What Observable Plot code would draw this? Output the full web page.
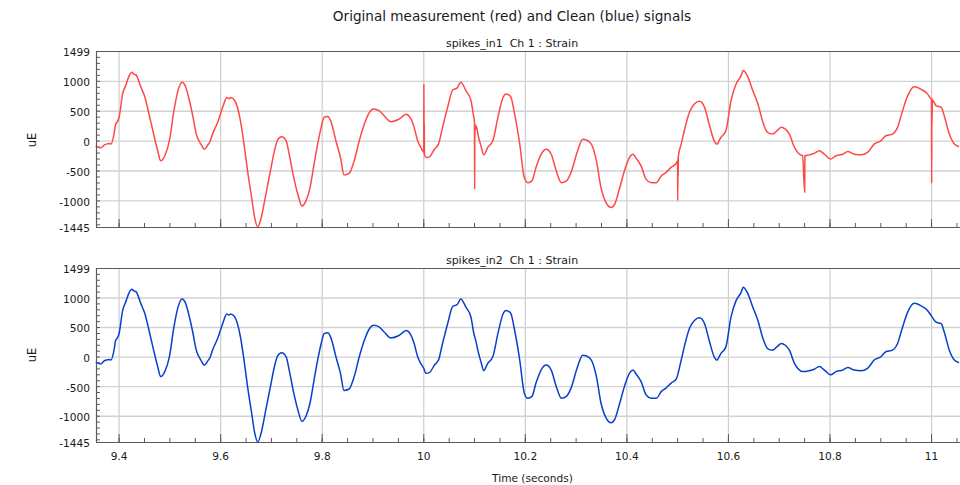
<!DOCTYPE html>
<html><head><meta charset="utf-8">
<script src="https://cdn.jsdelivr.net/npm/d3@7"></script>
<script src="https://cdn.jsdelivr.net/npm/@observablehq/plot@0.6"></script>
<style>
body{margin:0;background:#fff;font-family:"DejaVu Sans",sans-serif;}
#wrap{position:relative;width:960px;height:485px;overflow:hidden;background:#fff;}
.lbl{position:absolute;white-space:pre;color:#1a1a1a;transform:translate(-50%,-50%);line-height:1;}
.rot{transform:translate(-50%,-50%) rotate(-90deg);}
.panel{position:absolute;left:0;}
</style></head><body>
<div id="wrap">
  <div class="lbl" style="left:512px;top:17px;font-size:13.6px">Original measurement (red) and Clean (blue) signals</div>
  <div class="lbl" style="left:512px;top:43px;font-size:11px">spikes_in1  Ch 1 : Strain</div>
  <div class="lbl" style="left:512px;top:259.5px;font-size:11px">spikes_in2  Ch 1 : Strain</div>
  <div class="lbl rot" style="left:33px;top:140px;font-size:11.5px">uE</div>
  <div class="lbl rot" style="left:33px;top:355px;font-size:11.5px">uE</div>
  <div class="lbl" style="left:532.5px;top:478px;font-size:10.6px">Time (seconds)</div>
  <div class="panel" id="p1" style="top:0px"></div>
  <div class="panel" id="p2" style="top:240px"></div>
</div>
<script>
// ---- data ----
const time = [9.355,9.360,9.364,9.370,9.375,9.380,9.384,9.390,9.393,9.397,9.400,9.407,9.413,9.420,9.425,9.429,9.433,9.443,9.451,9.459,9.468,9.476,9.482,9.490,9.499,9.508,9.516,9.524,9.530,9.537,9.545,9.552,9.561,9.568,9.575,9.579,9.584,9.594,9.604,9.612,9.616,9.620,9.628,9.639,9.646,9.653,9.661,9.667,9.673,9.679,9.689,9.698,9.706,9.712,9.720,9.729,9.735,9.744,9.752,9.760,9.768,9.776,9.784,9.791,9.798,9.804,9.811,9.817,9.827,9.836,9.843,9.853,9.863,9.873,9.883,9.893,9.901,9.912,9.922,9.935,9.949,9.958,9.965,9.974,9.981,9.988,9.996,10.000,10.004,10.011,10.021,10.029,10.037,10.047,10.057,10.066,10.073,10.083,10.093,10.098,10.103,10.108,10.113,10.118,10.126,10.136,10.146,10.156,10.162,10.171,10.179,10.189,10.198,10.205,10.213,10.221,10.231,10.241,10.251,10.261,10.271,10.281,10.290,10.303,10.313,10.320,10.330,10.340,10.349,10.359,10.369,10.376,10.386,10.395,10.405,10.412,10.418,10.428,10.438,10.448,10.458,10.468,10.477,10.487,10.497,10.507,10.513,10.523,10.533,10.543,10.553,10.562,10.572,10.577,10.585,10.595,10.605,10.615,10.625,10.629,10.637,10.648,10.658,10.668,10.677,10.687,10.697,10.704,10.712,10.720,10.730,10.740,10.746,10.759,10.769,10.779,10.789,10.801,10.812,10.825,10.835,10.848,10.861,10.874,10.887,10.900,10.910,10.923,10.933,10.943,10.953,10.966,10.979,10.992,10.999,11.009,11.019,11.025,11.035,11.045,11.053];
const clean = [-90,-105,-117,-70,-50,-40,-50,117,275,330,400,790,930,1095,1150,1120,1110,900,730,450,117,-160,-330,-245,5,510,845,985,930,730,425,117,-50,-135,-60,-10,117,313,565,730,710,730,675,340,-50,-500,-945,-1280,-1435,-1310,-890,-500,-160,17,73,5,-220,-610,-890,-1085,-1000,-777,-385,-50,230,400,410,330,5,-275,-565,-540,-330,5,285,480,537,510,425,325,357,410,450,385,230,5,-135,-190,-275,-263,-135,-50,230,565,855,890,985,845,675,425,257,60,-90,-230,-105,5,397,730,790,745,450,-50,-610,-695,-665,-440,-220,-135,-220,-500,-695,-665,-525,-160,33,20,-50,-330,-777,-1030,-1112,-1055,-777,-500,-275,-220,-285,-415,-640,-695,-695,-580,-525,-440,-375,-50,173,480,620,665,565,285,5,-50,60,173,675,955,1095,1180,1095,845,620,313,145,117,185,230,200,117,-105,-220,-245,-230,-205,-160,-220,-300,-245,-220,-175,-220,-230,-190,-50,5,90,117,230,510,760,910,870,790,705,590,565,425,117,-50,-90];
// spikes present only in the original measurement
const spikeTime  = [10.0002,10.0006,10.0010,10.0014, 10.0998,10.1002,10.1006,10.1010, 10.4998,10.5002,10.5006,10.5010,10.5014, 10.7502,10.7506, 10.9998,11.0002,11.0006,11.0010,11.0014];
const spikeValue = [956,-210,290,-230, 330,-805,300,180, -330,-995,-270,-590,-250, -855,-245, 700,-705,720,300,690];
const yTickValues = [-1445,-1000,-500,0,500,1000,1499];
const xTickValues = [9.4,9.6,9.8,10,10.2,10.4,10.6,10.8,11];
const xDomain = [9.3555, 11.057];
const yDomain = [-1445, 1499];

// ---- build tables ----
const cleanData = time.map((t,i) => ({t, v: clean[i]}));
const rawData = cleanData.concat(spikeTime.map((t,i) => ({t, v: spikeValue[i]})))
  .sort((a,b) => a.t - b.t);
const yMinor = d3.range(-1400, 1401, 100);
const yGrid = [-1000,-500,0,500,1000];
const xMinor = d3.range(9.35, 11.06, 0.05).map(d => +d.toFixed(2)).filter(d => d >= xDomain[0]);

const axisColor = "#5a5a5a";
function panel(data, color, height, marginTop, marginBottom, labels) {
  return Plot.plot({
    width: 960, height, marginLeft: 96, marginRight: 0, marginTop, marginBottom,
    x: {domain: xDomain},
    y: {domain: yDomain},
    style: {fontFamily: "DejaVu Sans", fontSize: "10.6px", color: "#1a1a1a", background: "transparent", overflow: "visible"},
    marks: [
      Plot.gridX(xTickValues, {stroke: "#cdcdcd", strokeOpacity: 1, strokeWidth: 1.2}),
      Plot.gridY(yGrid, {stroke: "#d2d2d2", strokeOpacity: 1, strokeWidth: 1.4}),
      Plot.axisY(yTickValues, {tickSize: 0, tickPadding: 6.5, dy: 1.5, label: null, tickFormat: d => String(d), fill: "#1a1a1a"}),
      Plot.axisY(yMinor, {tickSize: -4, text: null, label: null, stroke: axisColor}),
      Plot.axisX(xMinor, {tickSize: -4, text: null, label: null, stroke: axisColor}),
      Plot.axisX(xTickValues, {tickSize: -8, text: null, label: null, stroke: axisColor}),
      ...(labels ? [Plot.axisX(xTickValues, {tickSize: 0, tickPadding: 10, label: null, tickFormat: d => String(d), fill: "#1a1a1a"})] : []),
      Plot.line(data, {x: "t", y: "v", stroke: color, strokeWidth: 1.5, curve: "monotone-x"}),
      Plot.ruleX([xDomain[0]], {stroke: axisColor, strokeWidth: 1.2}),
      Plot.ruleY(yDomain, {stroke: axisColor, strokeWidth: 1.2})
    ]
  });
}
document.getElementById("p1").append(panel(rawData, "#ff4848", 232, 51, 5, false));
document.getElementById("p2").append(panel(cleanData, "#0a3fc9", 245, 28, 43, true));
</script>
</body></html>
